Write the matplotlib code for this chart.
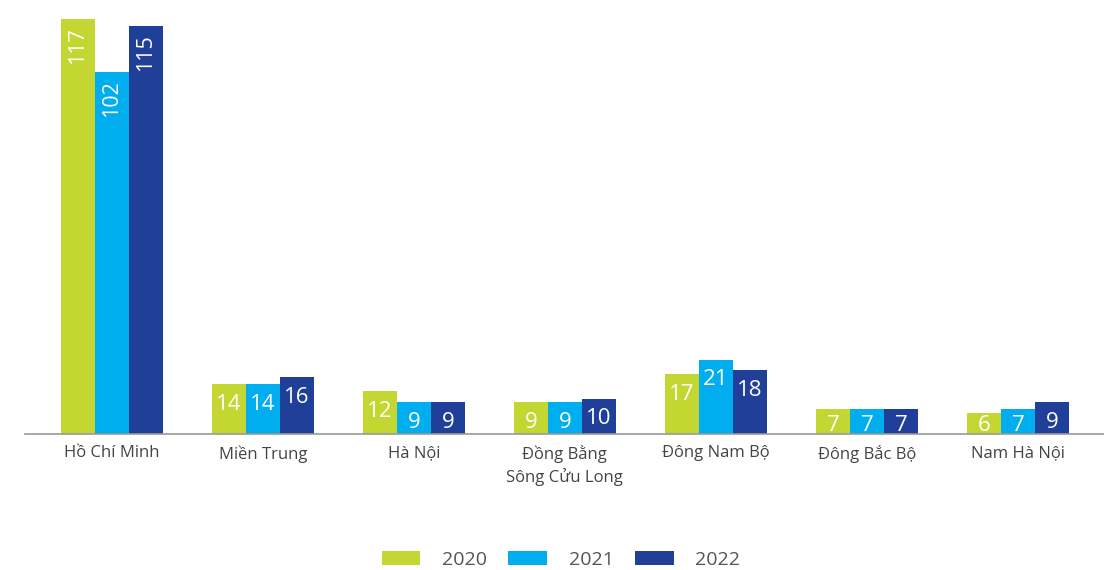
import numpy as np
import matplotlib.pyplot as plt

plt.rcParams['font.family'] = ['Open Sans', 'DejaVu Sans']

# số lượng theo khu vực, 3 năm
regions = ['Hồ Chí Minh', 'Miền Trung', 'Hà Nội', 'Đồng Bằng\nSông Cửu Long',
           'Đông Nam Bộ', 'Đông Bắc Bộ', 'Nam Hà Nội']
years = ['2020', '2021', '2022']
v2020 = [117, 14, 12, 9, 17, 7, 6]
v2021 = [102, 14, 9, 9, 21, 7, 7]
v2022 = [115, 16, 9, 10, 18, 7, 9]
colors = ['#C4D631', '#00AEEF', '#1F3F99']

fig = plt.figure(figsize=(11.04, 5.70), dpi=100)
ax = fig.add_axes([0.0226, 0.2386, 0.9774, 0.7614])

x = np.arange(len(regions))
w = 0.225
series = [v2020, v2021, v2022]
for i, (vals, c, yr) in enumerate(zip(series, colors, years)):
    pos = x + (i - 1) * w
    ax.bar(pos, vals, width=w, color=c, label=yr)
    for px, v in zip(pos, vals):
        if v >= 100:
            ax.annotate(str(v), (px, v), xytext=(0, -6), textcoords='offset points',
                        rotation=90, ha='center', va='top', color='white', fontsize=15.5)
        else:
            # nhãn nằm trong cột, không tràn xuống dưới trục
            ax.text(px, max(v - 7.3, 0.85), str(v), ha='center', va='baseline',
                    color='white', fontsize=16)

ax.set_xlim(-0.576, 6.57)
ax.set_ylim(0, 122.4)
ax.set_xticks(x)
ax.set_xticklabels(regions, fontsize=12, color='#444444', linespacing=1.35)
ax.tick_params(axis='x', length=0, pad=8)
ax.set_yticks([])
for s in ['top', 'right', 'left']:
    ax.spines[s].set_visible(False)
ax.spines['bottom'].set_color('#999999')
ax.spines['bottom'].set_linewidth(1.2)

fig.legend(loc='center', bbox_to_anchor=(0.508, 0.018), ncol=3, frameon=False,
           fontsize=14, handlelength=2.0, handleheight=0.77, handletextpad=1.1,
           columnspacing=1.1, labelcolor='#555555')

plt.savefig('out.png')
